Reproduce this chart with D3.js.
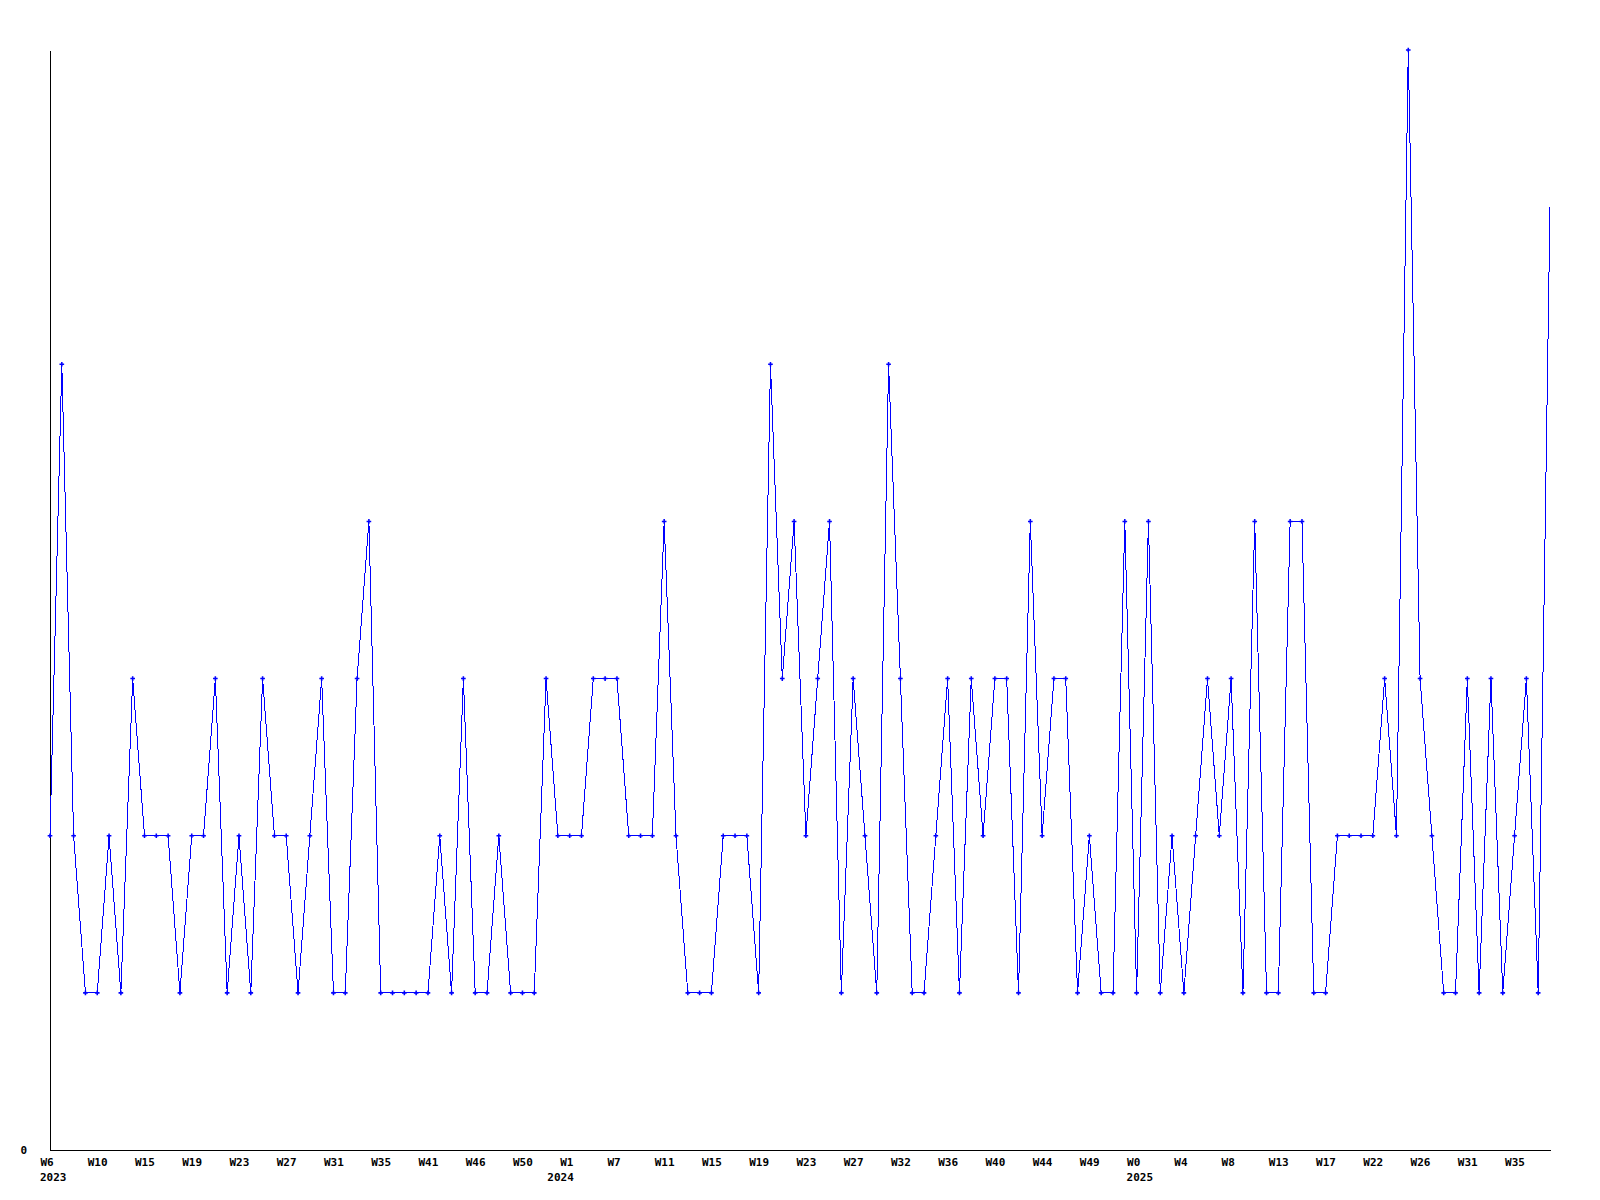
<!DOCTYPE html>
<html>
<head>
<meta charset="utf-8">
<script src="https://cdn.jsdelivr.net/npm/d3@7"></script>
<style>
  body { margin: 0; background: #fff; }
  svg { display: block; }
  .tick text, .year { font-family: "DejaVu Sans Mono", monospace; font-weight: bold; font-size: 11px; fill: #000; }
</style>
</head>
<body>
<svg id="chart" width="1600" height="1200"></svg>
<script>
// weekly counts, one per point
const values = [
  2, 5, 2, 1, 1, 2, 1, 3, 2, 2, 2, 1, 2, 2, 3, 1, 2, 1, 3, 2,
  2, 1, 2, 3, 1, 1, 3, 4, 1, 1, 1, 1, 1, 2, 1, 3, 1, 1, 2, 1,
  1, 1, 3, 2, 2, 2, 3, 3, 3, 2, 2, 2, 4, 2, 1, 1, 1, 2, 2, 2,
  1, 5, 3, 4, 2, 3, 4, 1, 3, 2, 1, 5, 3, 1, 1, 2, 3, 1, 3, 2,
  3, 3, 1, 4, 2, 3, 3, 1, 2, 1, 1, 4, 1, 4, 1, 2, 1, 2, 3, 2,
  3, 1, 4, 1, 1, 4, 4, 1, 1, 2, 2, 2, 2, 3, 2, 7, 3, 2, 1, 1,
  3, 1, 3, 1, 2, 3, 1, 6
];

// one label every 4 points
const weekLabels = [
  "W6", "W10", "W15", "W19", "W23", "W27", "W31", "W35", "W41", "W46", "W50",
  "W1", "W7", "W11", "W15", "W19", "W23", "W27", "W32", "W36", "W40", "W44", "W49",
  "W0", "W4", "W8", "W13", "W17", "W22", "W26", "W31", "W35"
];
const labelStep = 4;

const years = ["2023", "2024", "2025"];
const yearAt = [0, 42.95, 92];   // point index where each year label sits

const yMax = 7;

const svg = d3.select("#chart");
const plotLeft = 50, plotRight = 1550, plotTop = 50, plotBottom = 1150;

const x = d3.scaleLinear().domain([0, values.length - 1]).range([plotLeft, plotRight]);
const y = d3.scaleLinear().domain([0, yMax]).range([plotBottom, plotTop]);

// x axis
const xAxis = d3.axisBottom(x)
    .tickValues(weekLabels.map((d, i) => i * labelStep))
    .tickFormat((d, i) => weekLabels[i])
    .tickSize(0)
    .tickSizeOuter(0);

const gx = svg.append("g")
    .attr("transform", `translate(0,${plotBottom})`)
    .call(xAxis);
gx.select(".domain").attr("stroke", "#000").attr("shape-rendering", "crispEdges");
gx.selectAll(".tick text")
    .attr("text-anchor", "start")
    .attr("x", -10)
    .attr("y", 16)
    .attr("dy", 0);

svg.selectAll(".year")
    .data(years)
    .enter().append("text")
    .attr("class", "year")
    .attr("x", (d, i) => x(yearAt[i]) - 10)
    .attr("y", plotBottom + 31)
    .text(d => d);

// y axis, only the zero label
const yAxis = d3.axisLeft(y)
    .tickValues([0])
    .tickFormat(d3.format("d"))
    .tickSize(0)
    .tickSizeOuter(0);

const gy = svg.append("g")
    .attr("transform", `translate(${plotLeft},0)`)
    .call(yAxis);
gy.select(".domain").attr("stroke", "#000").attr("shape-rendering", "crispEdges");
gy.selectAll(".tick text")
    .attr("x", -23)
    .attr("dy", 3);

// line + markers
const line = d3.line()
    .x((d, i) => x(i))
    .y(d => y(d));

svg.append("path")
    .datum(values)
    .attr("fill", "none")
    .attr("stroke", "#0000ff")
    .attr("stroke-width", 1)
    .attr("shape-rendering", "crispEdges")
    .attr("d", line);

const marker = d3.symbol().type(d3.symbolCross).size(12);

// last point sits on the plot edge and shows no marker in the original
svg.selectAll(".pt")
    .data(values.slice(0, -1))
    .enter().append("path")
    .attr("class", "pt")
    .attr("transform", (d, i) => `translate(${x(i)},${y(d)})`)
    .attr("d", marker)
    .attr("fill", "#0000ff");
</script>
</body>
</html>
